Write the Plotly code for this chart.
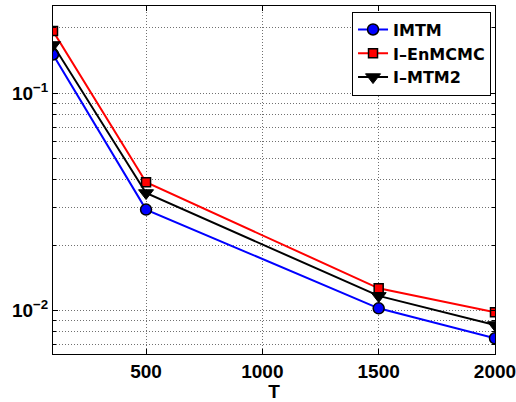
import plotly.graph_objects as go

T = [100, 500, 1500, 2000]
imtm = [0.151, 0.0292, 0.01026, 0.00747]
enmcmc = [0.1935, 0.0390, 0.01268, 0.00983]
mtm2 = [0.167, 0.0348, 0.0117, 0.0086]

x_ticks = [500, 1000, 1500, 2000]
x_ticktext = ["500", "1000", "1500", "2000"]
y_ticks = [0.01, 0.1]
y_ticktext = ["10<sup>−2</sup>", "10<sup>−1</sup>"]
y_minor = [0.007, 0.008, 0.009, 0.02, 0.03, 0.04, 0.05, 0.06, 0.07, 0.08, 0.09, 0.2]

FONT = "Liberation Sans"
LEGFONT = "DejaVu Sans"
GRIDC = "#707070"
GRIDDASH = "1px,2px"

fig = go.Figure()
fig.add_trace(go.Scatter(x=T, y=imtm, name="IMTM", mode="lines+markers",
                         line=dict(color="#0000ff", width=2),
                         marker=dict(symbol="circle", size=11, color="#0000ff",
                                     line=dict(color="black", width=1.5))))
fig.add_trace(go.Scatter(x=T, y=enmcmc, name="I–EnMCMC", mode="lines+markers",
                         line=dict(color="#ff0000", width=2),
                         marker=dict(symbol="square", size=9, color="#ff0000",
                                     line=dict(color="black", width=1.5))))
fig.add_trace(go.Scatter(x=T, y=mtm2, name="I–MTM2", mode="lines+markers",
                         line=dict(color="black", width=2),
                         marker=dict(symbol="triangle-down", size=13, color="black",
                                     line=dict(color="black", width=1))))

grid = dict(showgrid=True, gridcolor=GRIDC, griddash=GRIDDASH, gridwidth=1)

fig.update_layout(
    width=516, height=402,
    margin=dict(l=53, r=21, t=6, b=48, autoexpand=False),
    paper_bgcolor="white", plot_bgcolor="white",
    font=dict(family=FONT, size=19, color="black", weight="bold"),
    showlegend=True,
    legend=dict(x=0.991, y=0.984, xanchor="right", yanchor="top",
                bgcolor="white", bordercolor="black", borderwidth=1,
                font=dict(family=LEGFONT, size=16, color="black", weight="bold"),
                tracegroupgap=0),
    xaxis=dict(range=[100, 2000], tickmode="array", tickvals=x_ticks, ticktext=x_ticktext,
               ticks="inside", ticklen=5, ticklabeloverflow="allow", automargin=False,
               tickcolor="black", showline=True, linecolor="black", linewidth=1,
               mirror="ticks", zeroline=False,
               tickfont=dict(family=FONT, size=19, color="black", weight="bold"),
               title=dict(text="T", standoff=4,
                          font=dict(family=FONT, size=19, color="black", weight="bold")),
               **grid),
    yaxis=dict(type="log", range=[-2.199, -0.598], tickmode="array",
               tickvals=y_ticks, ticktext=y_ticktext, automargin=False,
               ticks="inside", ticklen=5, tickcolor="black", showline=True,
               linecolor="black", linewidth=1, mirror="ticks", zeroline=False,
               ticklabeloverflow="allow",
               tickfont=dict(family=FONT, size=19, color="black", weight="bold"),
               minor=dict(tickvals=y_minor, ticks="inside", ticklen=3, tickcolor="black",
                          showgrid=True, gridcolor=GRIDC, griddash=GRIDDASH, gridwidth=1),
               **grid),
)

fig.write_html("out.html")
